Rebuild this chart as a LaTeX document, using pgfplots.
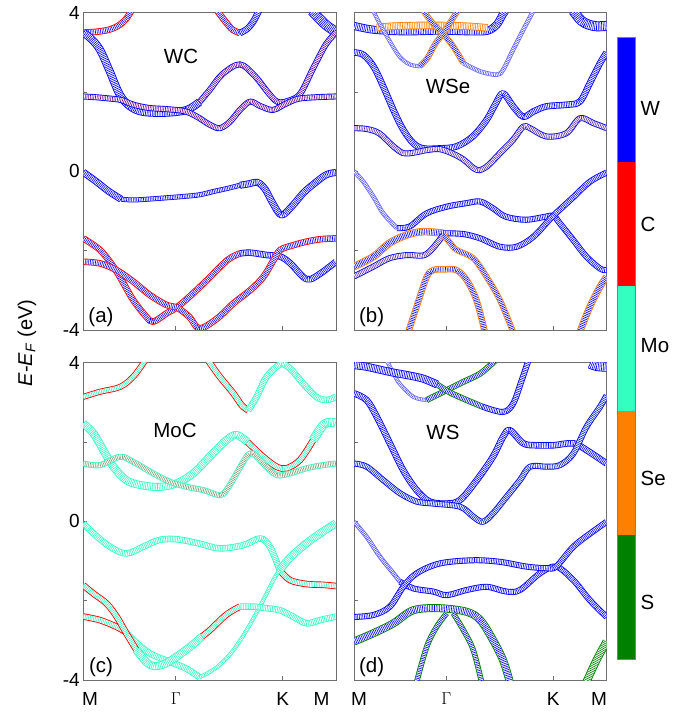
\documentclass[border=0pt]{standalone}
\usepackage{fontspec}
\setmainfont{Liberation Sans}
\usepackage{pgfplots}
\pgfplotsset{compat=1.18}

\definecolor{cW}{RGB}{0,0,255}
\definecolor{cC}{RGB}{255,0,0}
\definecolor{cMo}{RGB}{51,255,192}
\definecolor{cSe}{RGB}{255,128,0}
\definecolor{cS}{RGB}{0,128,0}
\definecolor{frame}{RGB}{110,110,110}

\pgfplotsset{
  fb/.style n args={4}{smooth, tension=0.55, draw=#1, line width=#3, line cap=butt, line join=round,
     postaction={draw=white, line width=#4, line cap=butt},
     postaction={draw=#2, line width=#4, line cap=butt, dash pattern=on 0.6pt off 1.1pt}},
  panel/.style={scale only axis, width=252.6pt, height=317.2pt,
     xmin=0, xmax=1, ymin=-4, ymax=4,
     axis line style={draw=frame, line width=0.7pt},
     tick pos=left, tick align=inside, major tick length=4pt,
     tick style={draw=frame, line width=0.6pt},
     ytick={-4,-2,0,2,4}, yticklabels={}, xtick={0.366,0.789}, xticklabels={},
     ticklabel style={font=\fontsize{19}{19}\selectfont},
     xticklabel style={yshift=-9pt}},
  leftp/.style={yticklabels={-4,{},0,{},4}},
  bottomp/.style={xticklabels={$\Gamma$,K}, extra x ticks={#1}, extra x tick labels={M,M},
     extra x tick style={major tick length=0pt}},
}
\newcommand{\nm}{\fontsize{20.5}{20.5}\selectfont}

\begin{document}
\begin{tikzpicture}
\path[use as bounding box] (0pt,0pt) rectangle (697pt,713pt);

% ---------------- (a) WC ----------------
\begin{axis}[panel, leftp, at={(83.3pt,383pt)}, anchor=south west]
\addplot[fb={cC}{cW}{6.5pt}{4.7pt}] coordinates {(0,3.5) (0.05,3.52) (0.1,3.57) (0.14,3.68) (0.17,3.85) (0.19,4.05)};
\addplot[fb={cC}{cW}{6.5pt}{4.7pt}] coordinates {(0.53,4.05) (0.56,3.8) (0.59,3.58) (0.62,3.49)};
\addplot[fb={cW}{cW}{6.5pt}{4.7pt}] coordinates {(0.62,3.49) (0.65,3.6) (0.675,3.8) (0.695,4.05)};
\addplot[fb={cW}{cW}{10pt}{8.2pt}] coordinates {(0.905,4.05) (0.935,3.85) (0.963,3.68) (1,3.52)};
\addplot[fb={cW}{cW}{8pt}{6.2pt}] coordinates {(0,3.5) (0.03,3.35) (0.066,3.07) (0.105,2.52) (0.145,1.93) (0.185,1.64) (0.237,1.5) (0.33,1.48) (0.41,1.55) (0.46,1.75)};
\addplot[fb={cW}{cW!60!cC}{6pt}{4.2pt}] coordinates {(0.46,1.75) (0.5,2.05) (0.55,2.45) (0.62,2.7) (0.68,2.4) (0.73,2.0) (0.77,1.75) (0.82,1.8) (0.86,1.97) (0.91,2.6) (0.96,3.2) (1,3.5)};
\addplot[fb={cW}{cW!55!cC}{6pt}{4.2pt}] coordinates {(0,1.89) (0.05,1.87) (0.1,1.84) (0.15,1.8) (0.2,1.68) (0.26,1.6) (0.33,1.57) (0.4,1.52) (0.45,1.38) (0.5,1.18) (0.54,1.09) (0.58,1.25) (0.62,1.55) (0.66,1.76) (0.70,1.65) (0.75,1.55) (0.80,1.7) (0.85,1.83) (0.92,1.87) (1,1.89)};
\addplot[fb={cW}{cW}{7pt}{5.2pt}] coordinates {(0,-0.02) (0.05,-0.25) (0.1,-0.5) (0.15,-0.7)};
\addplot[fb={cW}{cW}{5pt}{3.4pt}] coordinates {(0.15,-0.7) (0.2,-0.72) (0.30,-0.68) (0.4,-0.63) (0.46,-0.59) (0.52,-0.5) (0.57,-0.43) (0.62,-0.35)};
\addplot[fb={cW}{cW}{7pt}{5.2pt}] coordinates {(0.62,-0.35) (0.65,-0.32) (0.69,-0.28) (0.72,-0.45) (0.75,-0.8) (0.785,-1.1) (0.83,-0.85) (0.87,-0.55) (0.9,-0.38) (0.96,-0.09) (1,-0.03)};
\addplot[fb={cC}{cW}{6.5pt}{4.7pt}] coordinates {(0,-1.69) (0.066,-1.98) (0.119,-2.4) (0.159,-2.82) (0.198,-3.25) (0.25,-3.67) (0.277,-3.79) (0.33,-3.58) (0.37,-3.43) (0.42,-3.16) (0.49,-2.74) (0.57,-2.24) (0.62,-2.07)};
\addplot[fb={cW}{cW}{6.5pt}{4.7pt}] coordinates {(0.62,-2.07) (0.66,-2.05) (0.727,-2.11) (0.78,-2.15) (0.82,-2.32) (0.87,-2.66) (0.898,-2.72) (0.94,-2.57) (1,-2.28)};
\addplot[fb={cC}{cW}{6.5pt}{4.7pt}] coordinates {(0,-2.28) (0.066,-2.32) (0.132,-2.49) (0.198,-2.78) (0.264,-3.12) (0.33,-3.37) (0.37,-3.43) (0.42,-3.67) (0.46,-3.96) (0.53,-3.71) (0.594,-3.33) (0.66,-3.0) (0.713,-2.66) (0.753,-2.24) (0.78,-1.98) (0.832,-1.86) (0.885,-1.77) (0.94,-1.71) (1,-1.69)};
\node[font=\nm] at (axis cs:0.387,2.89) {WC};
\node[font=\nm] at (axis cs:0.07,-3.67) {(a)};
\end{axis}

% ---------------- (b) WSe ----------------
\begin{axis}[panel, at={(354pt,383pt)}, anchor=south west]
\addplot[fb={cW}{cW}{8pt}{6.2pt}] coordinates {(0,3.67) (0.05,3.6) (0.1,3.56) (0.21,3.53) (0.34,3.55) (0.47,3.53) (0.53,3.55) (0.565,3.7) (0.59,3.97) (0.6,4.05)};
\addplot[fb={cSe}{cSe}{7.5pt}{5.7pt}] coordinates {(0.09,3.63) (0.15,3.66) (0.25,3.68) (0.35,3.68) (0.45,3.66) (0.53,3.62)};
\addplot[fb={cW!60}{cW!70}{4pt}{2.4pt}] coordinates {(0.076,4.05) (0.1,3.75) (0.14,3.3) (0.18,2.9) (0.22,2.7) (0.26,2.65)};
\addplot[fb={cSe}{cW}{6pt}{4.2pt}] coordinates {(0.26,2.65) (0.29,2.85) (0.32,3.2) (0.355,3.5) (0.38,3.75) (0.41,4.05)};
\addplot[fb={cSe}{cW}{6pt}{4.2pt}] coordinates {(0.275,4.05) (0.31,3.75) (0.355,3.45) (0.393,3.15) (0.433,2.73)};
\addplot[fb={cW!60}{cW!70}{4.5pt}{2.9pt}] coordinates {(0.433,2.73) (0.5,2.52) (0.565,2.44) (0.59,2.56) (0.63,3.07) (0.67,3.57) (0.71,4.05)};
\addplot[fb={cW}{cW}{10pt}{8.2pt}] coordinates {(0.868,4.05) (0.9,3.8) (0.93,3.7) (0.96,3.66) (1,3.67)};
\addplot[fb={cW}{cW}{6.5pt}{4.7pt}] coordinates {(0,3.0) (0.037,2.94) (0.077,2.65) (0.116,2.14) (0.156,1.55) (0.195,1.05) (0.235,0.71) (0.274,0.58) (0.34,0.58) (0.406,0.63) (0.47,0.88) (0.525,1.3) (0.56,1.7) (0.59,1.97) (0.63,1.64) (0.67,1.38) (0.71,1.51) (0.762,1.64) (0.84,1.68) (0.894,1.76) (0.934,2.23) (0.974,2.73) (1,3.0)};
\addplot[fb={cW}{cW!60!cSe}{6pt}{4.2pt}] coordinates {(0,1.09) (0.05,1.07) (0.1,0.96) (0.156,0.63) (0.195,0.46) (0.235,0.47) (0.29,0.54) (0.34,0.56) (0.39,0.45) (0.433,0.3) (0.485,0.04) (0.525,0.12) (0.578,0.46) (0.63,0.8) (0.67,1.13) (0.697,1.09) (0.762,0.88) (0.84,0.96) (0.894,1.34) (0.947,1.22) (1,1.09)};
\addplot[fb={cW!60}{cW!70}{4.5pt}{2.9pt}] coordinates {(0,0.0) (0.037,-0.26) (0.077,-0.64) (0.116,-1.06) (0.17,-1.43)};
\addplot[fb={cW}{cW}{6pt}{4.2pt}] coordinates {(0.17,-1.43) (0.22,-1.39) (0.287,-1.06) (0.367,-0.89) (0.446,-0.8) (0.5,-0.76) (0.55,-0.93) (0.60,-1.14) (0.68,-1.22) (0.76,-1.14) (0.79,-1.12) (0.815,-1.31) (0.868,-1.73) (0.92,-2.15) (0.974,-2.45) (1,-2.49)};
\addplot[fb={cSe}{cW}{7.5pt}{5.7pt}] coordinates {(0,-2.4) (0.077,-2.15) (0.14,-1.81) (0.21,-1.6) (0.274,-1.52) (0.354,-1.56)};
\addplot[fb={cW}{cW}{6pt}{4.2pt}] coordinates {(0.354,-1.56) (0.433,-1.58) (0.5,-1.69) (0.578,-1.9) (0.644,-1.9) (0.71,-1.65) (0.776,-1.2) (0.80,-1.05) (0.87,-0.64) (0.934,-0.26) (1,-0.03)};
\addplot[fb={cW}{cW!60!cSe}{6pt}{4.2pt}] coordinates {(0,-2.65) (0.077,-2.40) (0.14,-2.19) (0.21,-2.11) (0.274,-2.12) (0.31,-1.95) (0.354,-1.6)};
\addplot[fb={cSe}{cW}{6pt}{4.2pt}] coordinates {(0.354,-1.6) (0.38,-1.8) (0.406,-1.98) (0.472,-2.19) (0.525,-2.66) (0.578,-3.25) (0.63,-4.05)};
\addplot[fb={cSe}{cW}{6.5pt}{4.7pt}] coordinates {(0.215,-4.05) (0.248,-3.41) (0.288,-2.66) (0.314,-2.49) (0.36,-2.47) (0.406,-2.49) (0.446,-2.74) (0.485,-3.25) (0.518,-4.05)};
\addplot[fb={cSe}{cW}{7pt}{5.2pt}] coordinates {(0.894,-4.05) (0.934,-3.41) (0.974,-2.91) (1,-2.66)};
\node[font=\nm] at (axis cs:0.372,2.13) {WSe};
\node[font=\nm] at (axis cs:0.07,-3.67) {(b)};
\end{axis}

% ---------------- (c) MoC ----------------
\begin{axis}[panel, leftp, bottomp={0.027,0.943}, at={(83.3pt,33pt)}, anchor=south west]
\addplot[fb={cC}{cMo}{6pt}{4.2pt}] coordinates {(0,3.14) (0.066,3.27) (0.145,3.39) (0.198,3.65) (0.244,4.05)};
\addplot[fb={cC}{cMo}{6.5pt}{4.7pt}] coordinates {(0.495,4.05) (0.54,3.65) (0.594,3.23) (0.627,2.93) (0.653,2.8)};
\addplot[fb={cMo}{cMo}{6.5pt}{4.7pt}] coordinates {(0.653,2.8) (0.686,3.14) (0.726,3.65) (0.78,3.96) (0.818,3.86) (0.87,3.48) (0.923,3.14) (0.963,3.06) (1,3.14)};
\addplot[fb={cMo}{cMo}{8pt}{6.2pt}] coordinates {(0,2.47) (0.04,2.22) (0.079,1.80) (0.119,1.38) (0.17,1.04) (0.224,0.92) (0.30,0.87) (0.369,0.96) (0.435,1.21) (0.5,1.63) (0.567,2.05) (0.607,2.18) (0.65,2.0)};
\addplot[fb={cC}{cMo}{6.5pt}{4.7pt}] coordinates {(0.65,2.0) (0.712,1.63) (0.765,1.38) (0.805,1.34) (0.858,1.55) (0.91,2.05)};
\addplot[fb={cMo}{cMo}{9pt}{7.2pt}] coordinates {(0.91,2.05) (0.95,2.43) (0.98,2.5) (1,2.47)};
\addplot[fb={cMo}{cMo!60!cC}{6pt}{4.2pt}] coordinates {(0,1.46) (0.066,1.42) (0.145,1.63) (0.198,1.5) (0.277,1.21) (0.343,1.0) (0.41,0.87) (0.475,0.79) (0.54,0.66) (0.567,0.79) (0.607,1.21) (0.646,1.63) (0.673,1.71) (0.712,1.46) (0.765,1.17) (0.818,1.21) (0.884,1.34) (0.95,1.42) (1,1.46)};
\addplot[fb={cMo}{cMo}{6.5pt}{4.7pt}] coordinates {(0,-0.05) (0.04,-0.3) (0.106,-0.64) (0.17,-0.81) (0.237,-0.64) (0.30,-0.47) (0.369,-0.45) (0.46,-0.56) (0.54,-0.68) (0.633,-0.6) (0.70,-0.43) (0.739,-0.64) (0.778,-1.23)};
\addplot[fb={cC}{cMo}{6.5pt}{4.7pt}] coordinates {(0.778,-1.23) (0.818,-1.48) (0.884,-1.58) (0.95,-1.6) (1,-1.63)};
\addplot[fb={cC}{cMo}{6.5pt}{4.7pt}] coordinates {(0,-2.4) (0.066,-2.49) (0.132,-2.66) (0.17,-2.8)};
\addplot[fb={cMo}{cMo}{6.5pt}{4.7pt}] coordinates {(0.17,-2.8) (0.198,-2.99) (0.264,-3.33) (0.343,-3.54) (0.41,-3.72) (0.46,-3.93)};
\addplot[fb={cMo}{cMo}{4pt}{2.4pt}] coordinates {(0.46,-3.93) (0.50,-3.8) (0.54,-3.62) (0.594,-3.25) (0.646,-2.75) (0.686,-2.3) (0.726,-1.82) (0.755,-1.45) (0.778,-1.23)};
\addplot[fb={cMo}{cMo}{8pt}{6.2pt}] coordinates {(0.778,-1.23) (0.818,-0.92) (0.884,-0.55) (0.95,-0.25) (1,-0.05)};
\addplot[fb={cC}{cMo}{6.5pt}{4.7pt}] coordinates {(0,-1.61) (0.04,-1.82) (0.092,-2.07) (0.132,-2.4) (0.17,-2.82) (0.21,-3.24)};
\addplot[fb={cMo}{cMo}{8pt}{6.2pt}] coordinates {(0.21,-3.24) (0.25,-3.55) (0.28,-3.65) (0.32,-3.6) (0.37,-3.41) (0.435,-3.1) (0.47,-2.9)};
\addplot[fb={cC}{cMo}{6.5pt}{4.7pt}] coordinates {(0.47,-2.9) (0.5,-2.75) (0.567,-2.35) (0.62,-2.15)};
\addplot[fb={cMo}{cMo}{6.5pt}{4.7pt}] coordinates {(0.62,-2.15) (0.673,-2.15) (0.726,-2.19) (0.778,-2.24) (0.83,-2.4) (0.884,-2.57) (0.937,-2.49) (1,-2.4)};
\node[font=\nm] at (axis cs:0.363,2.30) {MoC};
\node[font=\nm] at (axis cs:0.07,-3.67) {(c)};
\end{axis}

% ---------------- (d) WS ----------------
\begin{axis}[panel, bottomp={0.02,0.97}, at={(354pt,33pt)}, anchor=south west]
\addplot[fb={cW!60}{cW!70}{4pt}{2.4pt}] coordinates {(0.13,4.05) (0.155,3.75) (0.18,3.48) (0.235,3.14) (0.288,3.06)};
\addplot[fb={cS}{cW}{6pt}{4.2pt}] coordinates {(0.288,3.06) (0.367,3.31) (0.433,3.52) (0.5,3.73) (0.558,4.05)};
\addplot[fb={cW}{cW}{8pt}{6.2pt}] coordinates {(0,3.94) (0.05,3.9) (0.142,3.77) (0.21,3.69) (0.274,3.6) (0.33,3.45)};
\addplot[fb={cS}{cW}{6pt}{4.2pt}] coordinates {(0.33,3.45) (0.38,3.25) (0.446,3.06) (0.51,2.89)};
\addplot[fb={cW}{cW}{6pt}{4.2pt}] coordinates {(0.51,2.89) (0.59,2.76) (0.63,2.97) (0.664,3.56) (0.69,4.05)};
\addplot[fb={cW}{cW}{10pt}{8.2pt}] coordinates {(0.934,3.98) (0.96,3.92) (1,3.9)};
\addplot[fb={cW}{cW}{6.5pt}{4.7pt}] coordinates {(0,3.23) (0.05,3.06) (0.09,2.64) (0.142,1.97) (0.195,1.29) (0.248,0.79) (0.30,0.5) (0.367,0.45) (0.42,0.54) (0.486,1.04) (0.55,1.63) (0.59,2.13) (0.617,2.3) (0.67,1.97) (0.72,1.92) (0.79,1.92) (0.868,1.97) (0.92,1.80) (1,1.46)};
\addplot[fb={cW}{cW!70!cS}{6pt}{4.2pt}] coordinates {(0,1.46) (0.05,1.38) (0.116,1.04) (0.182,0.71) (0.248,0.5) (0.314,0.45) (0.42,0.37) (0.472,0.12) (0.51,-0.01) (0.55,0.2) (0.604,0.62) (0.657,1.04) (0.697,1.38) (0.762,1.38) (0.815,1.42) (0.868,1.71) (0.92,2.38) (0.974,2.89) (1,3.18)};
\addplot[fb={cW!65}{cW!75}{4.5pt}{2.9pt}] coordinates {(0,-0.01) (0.05,-0.39) (0.103,-0.89) (0.156,-1.31) (0.182,-1.52)};
\addplot[fb={cW}{cW}{6pt}{4.2pt}] coordinates {(0.182,-1.52) (0.235,-1.69) (0.314,-1.77) (0.367,-1.86) (0.446,-1.73) (0.525,-1.65) (0.604,-1.77) (0.657,-1.73) (0.736,-1.31) (0.80,-1.14) (0.868,-1.48) (0.934,-1.99) (1,-2.41)};
\addplot[fb={cW}{cW}{6pt}{4.2pt}] coordinates {(0,-2.41) (0.077,-2.36) (0.142,-2.15) (0.195,-1.65) (0.248,-1.31) (0.34,-1.06) (0.472,-0.98) (0.578,-1.02) (0.683,-1.14) (0.762,-1.18) (0.80,-1.14) (0.868,-0.64) (0.934,-0.31) (1,-0.01)};
\addplot[fb={cS}{cW}{8pt}{6.2pt}] coordinates {(0,-3.03) (0.077,-2.82) (0.156,-2.57) (0.235,-2.24) (0.34,-2.19) (0.446,-2.28) (0.5,-2.49) (0.55,-2.99) (0.59,-3.5) (0.617,-4.05)};
\addplot[fb={cS}{cW}{5.5pt}{3.7pt}] coordinates {(0.248,-4.05) (0.288,-3.16) (0.327,-2.66) (0.367,-2.32)};
\addplot[fb={cS}{cW}{5.5pt}{3.7pt}] coordinates {(0.393,-2.32) (0.433,-2.74) (0.472,-3.24) (0.505,-4.05)};
\addplot[fb={cS}{cS}{8pt}{6.2pt}] coordinates {(0.92,-4.05) (0.96,-3.5) (1,-3.03)};
\node[font=\nm] at (axis cs:0.352,2.25) {WS};
\node[font=\nm] at (axis cs:0.07,-3.67) {(d)};
\end{axis}

% y label
\node[rotate=90, font=\fontsize{20}{20}\selectfont] at (27pt,370pt) {\textit{E}-\textit{E}\textsubscript{\textit{F}} (eV)};

% colour bar
\fill[cW]  (617.3pt,551pt)   rectangle (635pt,675.3pt);
\fill[cC]  (617.3pt,426.7pt) rectangle (635pt,551pt);
\fill[cMo] (617.3pt,302.4pt) rectangle (635pt,426.7pt);
\fill[cSe] (617.3pt,178.2pt) rectangle (635pt,302.4pt);
\fill[cS]  (617.3pt,54pt)    rectangle (635pt,178.2pt);
\draw[gray, line width=0.5pt] (617.3pt,54pt) rectangle (635pt,675.3pt);
\node[anchor=west, inner sep=0pt, font=\nm] at (640.5pt,605pt) {W};
\node[anchor=west, inner sep=0pt, font=\nm] at (640.5pt,488.5pt) {C};
\node[anchor=west, inner sep=0pt, font=\nm] at (640.5pt,367pt) {Mo};
\node[anchor=west, inner sep=0pt, font=\nm] at (640.5pt,235pt) {Se};
\node[anchor=west, inner sep=0pt, font=\nm] at (640.5pt,111pt) {S};
\end{tikzpicture}
\end{document}
